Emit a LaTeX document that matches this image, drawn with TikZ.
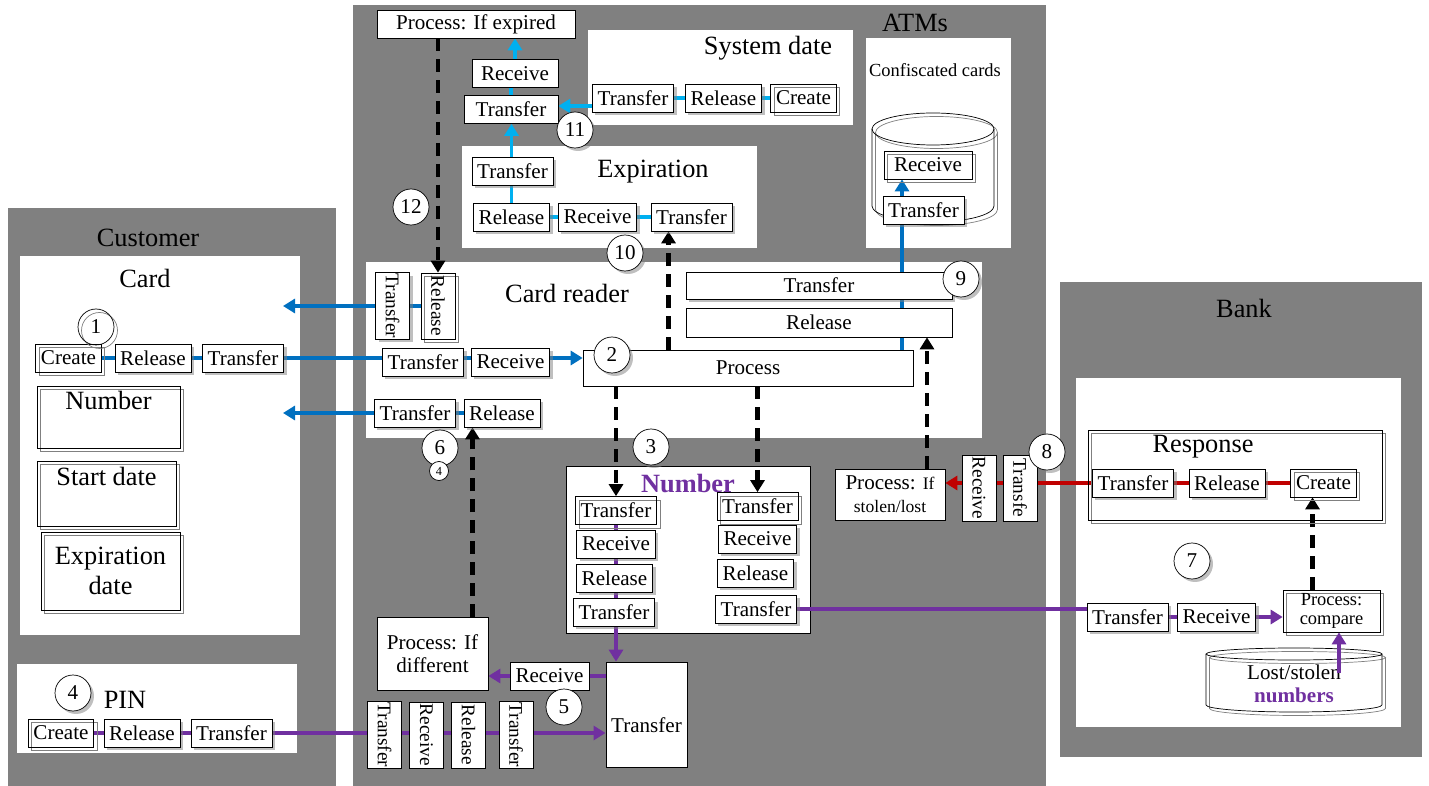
\documentclass[tikz,border=0pt]{standalone}
\usepackage{fontspec}
\setmainfont{Liberation Serif}
\usepackage{graphicx}
\usetikzlibrary{shapes, arrows.meta, positioning, shadows}

\definecolor{cardblue}{HTML}{0070C0}
\definecolor{dateblue}{HTML}{00B0F0}
\definecolor{numpurple}{HTML}{7030A0}
\definecolor{respred}{HTML}{C00000}
\definecolor{zonegray}{HTML}{808080}

\pgfdeclarelayer{panels}
\pgfdeclarelayer{links}
\pgfsetlayers{panels,links,main}

\newcommand{\vtext}[1]{\rotatebox{-90}{#1}}

\begin{document}
\begin{tikzpicture}[
    x=0.02cm, y=-0.02cm,
    font=\fontsize{12}{13}\selectfont,
    plain/.style={draw, fill=white, inner xsep=3pt, inner ysep=1pt, minimum height=0.56cm},
    lift/.style={drop shadow={shadow xshift=0.06cm, shadow yshift=-0.06cm, opacity=0.5}},
    twin/.style={fill=none, general shadow={shadow xshift=0.07cm, shadow yshift=-0.07cm, draw=gray}},
    box/.style={plain, lift},
    dbox/.style={plain, twin},
    vbox/.style={plain, font=\fontsize{11}{12}\selectfont, inner xsep=1pt, inner ysep=0.5pt, minimum width=0.68cm, minimum height=1.32cm},
    num/.style={circle, draw, fill=white, inner sep=0pt, minimum size=0.72cm, lift},
    zone/.style={font=\fontsize{15}{17}\selectfont},
    flow/.style={line width=2.2pt},
    tip/.style={-{Triangle[length=2.4mm, width=2.8mm]}},
    ctrl/.style={line width=2.4pt, dash pattern=on 7.4pt off 4.5pt, -{Triangle[length=2.4mm, width=2.8mm]}}
]
    \useasboundingbox (0,0) rectangle (1429,786);

    % Zones and panels
    \begin{pgfonlayer}{panels}
        \fill[white] (0,0) rectangle (1429,786);
        \fill[zonegray] (8,208) rectangle (336,786);
        \fill[zonegray] (353,5) rectangle (1046,786);
        \fill[zonegray] (1060,282) rectangle (1422,757);
        \fill[white] (20,256) rectangle (300,635);
        \fill[white] (17,664) rectangle (297,753);
        \fill[white] (588,30) rectangle (853,125);
        \fill[white] (866,38) rectangle (1011,248);
        \fill[white] (462,146) rectangle (757,248);
        \fill[white] (366,262) rectangle (982,438);
        \filldraw[fill=white, draw=black] (566,466) rectangle (810,633);
        \fill[white] (1076,378) rectangle (1401,727);
    \end{pgfonlayer}

    % Titles
    \node[zone] (customer) at (148,238) {Customer};
    \node[zone] (atms) at (915,23) {ATMs};
    \node[zone] (bank) at (1244,308) {Bank};
    \node[zone] (cardtitle) at (145,278) {Card};
    \node[zone] (pintitle) at (125,700) {PIN};
    \node[zone] (systitle) at (768,48) {System date};
    \node[font=\fontsize{10.5}{12}\selectfont] (conftitle) at (935,70) {Confiscated cards};
    \node[zone] (exptitle) at (653,172) {Expiration};
    \node[zone] (readtitle) at (567,293) {Card reader};
    \node[font=\fontsize{15}{17}\selectfont\bfseries, text=numpurple] (numtitle) at (688,484) {Number};

    % Customer: card
    \node[dbox] (cardC) at (68.5,358) {Create};
    \node[box] (cardL) at (153,358) {Release};
    \node[box] (cardT) at (243,358) {Transfer};
    \node[circle, draw, inner sep=0pt, minimum size=0.72cm, twin] (n1) at (96,327) {1};
    \node[dbox, font=\fontsize{15}{17}\selectfont, minimum width=2.86cm, text height=0.38cm, text depth=0.66cm, inner ysep=0.1cm] (cardnum) at (108.5,417) {Number};
    \node[dbox, font=\fontsize{15}{17}\selectfont, minimum width=2.78cm, text height=0.38cm, text depth=0.72cm, inner ysep=0.1cm] (cardstart) at (106.5,493.5) {Start date};
    \node[dbox, font=\fontsize{15}{17}\selectfont, align=center, minimum width=2.78cm, minimum height=1.56cm] (cardexp) at (110.5,571) {Expiration\\date};

    % Customer: PIN
    \node[num] (n4) at (73,693) {4};
    \node[dbox] (pinC) at (61,733) {Create};
    \node[box] (pinL) at (142,733) {Release};
    \node[box] (pinT) at (231.5,733) {Transfer};

    % Card reader
    \node[vbox, lift] (ejectT) at (392.5,306) {\vtext{Transfer}};
    \node[vbox, twin] (ejectR) at (438,306) {\vtext{Release}};
    \node[box] (readT) at (423,362) {Transfer};
    \node[box] (readR) at (510.5,362) {Receive};
    \node[plain, minimum width=6.6cm, minimum height=0.72cm] (proc) at (748,368) {Process};
    \node[num] (n2) at (612,355) {2};
    \node[box] (returnT) at (415,413) {Transfer};
    \node[box] (returnR) at (502,413) {Release};
    \node[box, minimum width=5.32cm, minimum height=0.54cm] (keepT) at (819,285.5) {Transfer};
    \node[plain, minimum width=5.32cm, minimum height=0.58cm] (keepR) at (819,322.5) {Release};
    \node[num] (n9) at (961,279) {9};
    \node[num] (n6) at (440,448) {6};
    \node[num, minimum size=0.38cm, font=\fontsize{7}{8}\selectfont] (n4b) at (439,471) {4};
    \coordinate (toCard1) at (283,306);
    \coordinate (toCard2) at (283,413);

    % Expiration
    \node[box] (expT1) at (512.5,171) {Transfer};
    \node[box] (expL) at (511.5,217) {Release};
    \node[box] (expR) at (597.5,217) {Receive};
    \node[box] (expT2) at (691.5,217) {Transfer};
    \node[num] (n10) at (625,253) {10};

    % Expiry check
    \node[plain, minimum width=1.88cm] (topT) at (511,109.5) {Transfer};
    \node[plain, minimum width=1.72cm] (topR) at (515,73.5) {Receive};
    \node[plain, minimum width=3.96cm] (pexp) at (476,24) {Process: If expired};
    \node[num] (n11) at (575,130) {11};
    \node[num] (n12) at (411,207) {12};

    % System date
    \node[box] (sysT) at (633,98) {Transfer};
    \node[box] (sysL) at (723.5,98) {Release};
    \node[dbox] (sysC) at (803.5,98) {Create};

    % Confiscated cards (drum)
    \foreach \dx/\col in {0.07cm/gray, 0cm/black} {
        \begin{scope}[shift={(\dx,-\dx)}]
            \draw[\col] (872,129) -- (872,206) arc[start angle=180, end angle=360, x radius=1.22cm, y radius=0.32cm] -- (994,129);
            \draw[\col] (933,129) ellipse[x radius=1.22cm, y radius=0.32cm];
        \end{scope}
    }
    \node[dbox, minimum width=1.76cm] (confR) at (928,165) {Receive};
    \node[box] (confT) at (923.5,210) {Transfer};

    % Number
    \node[dbox] (nLT1) at (616,510.5) {Transfer};
    \node[box] (nLR) at (616,544) {Receive};
    \node[box] (nLL) at (614.5,578) {Release};
    \node[box] (nLT2) at (614,612.5) {Transfer};
    \node[dbox] (nRT1) at (757.5,506.5) {Transfer};
    \node[box] (nRR) at (757.5,539) {Receive};
    \node[box] (nRL) at (755.5,573) {Release};
    \node[box] (nRT2) at (756,609) {Transfer};
    \node[num] (n3) at (651,447) {3};

    % PIN check
    \node[plain, minimum width=1.58cm, text height=1.04cm, text depth=0.3cm, inner ysep=0.38cm] (bigT) at (646.5,714.5) {Transfer};
    \node[plain, minimum width=1.58cm] (diffR) at (549.5,676) {Receive};
    \node[plain, align=center, minimum width=2.22cm, minimum height=1.46cm] (pdiff) at (432.5,653.5) {Process: If\\different};
    \node[num] (n5) at (564,707) {5};
    \node[vbox] (pinV1) at (384.5,735) {\vtext{Transfer}};
    \node[vbox] (pinV2) at (426.5,735) {\vtext{Receive}};
    \node[vbox] (pinV3) at (468.5,735) {\vtext{Release}};
    \node[vbox] (pinV4) at (516,735) {\vtext{Transfer}};

    % Stolen check
    \node[plain, align=center, minimum width=2.2cm, minimum height=1.02cm] (pstolen) at (890,494.5) {Process: {\fontsize{10}{11}\selectfont If}\\{\fontsize{10}{11}\selectfont stolen/lost}};
    \node[vbox] (stR) at (979,488) {\vtext{Receive}};
    \node[vbox] (stT) at (1020,488) {\vtext{Transfe}};
    \node[num] (n8) at (1047,452) {8};

    % Bank
    \node[draw, twin, minimum width=5.88cm, minimum height=1.8cm] (resp) at (1235,475) {};
    \node[zone] (resptitle) at (1203,447) {Response};
    \node[box] (bankT1) at (1133,483) {Transfer};
    \node[box] (bankL) at (1227,483) {Release};
    \node[dbox] (bankC) at (1323.5,483) {Create};
    \node[num] (n7) at (1192,561) {7};
    \node[box] (bankT2) at (1127.5,617) {Transfer};
    \node[box] (bankR) at (1216.5,617) {Receive};
    \node[dbox, align=center, font=\fontsize{10.5}{11}\selectfont, minimum width=1.94cm, minimum height=0.84cm, inner ysep=0pt] (pcmp) at (1331.5,611) {Process:\\compare};

    % Lost/stolen numbers (drum)
    \foreach \dx/\col in {0.07cm/gray, 0cm/black} {
        \begin{scope}[shift={(\dx,-\dx)}]
            \draw[\col] (1206,654) -- (1206,705) arc[start angle=180, end angle=360, x radius=1.76cm, y radius=0.14cm] -- (1382,654);
            \draw[\col] (1294,654) ellipse[x radius=1.76cm, y radius=0.12cm];
        \end{scope}
    }
    \node[align=center] (lost) at (1294,684) {Lost/stolen\\{\bfseries\color{numpurple}numbers}};

    % Connections
    \begin{pgfonlayer}{links}
        % card flow
        \draw[flow, cardblue] (cardC.east) -- (cardT);
        \draw[flow, cardblue, tip] (cardT.east) -- (proc.west |- cardT.east);
        \draw[flow, cardblue, tip] (ejectR.west) -- (toCard1);
        \draw[flow, cardblue, tip] (returnR.west) -- (toCard2);
        \draw[flow, cardblue] ([xshift=-0.43cm]confT.south) -- ([xshift=-0.43cm]confT.south |- proc.north);
        \draw[flow, cardblue, tip] ([xshift=-0.43cm]confT.north) -- ([xshift=-0.43cm]confT.north |- confR.south);
        % date flow
        \draw[flow, dateblue] (sysT) -- (sysC.west);
        \draw[flow, dateblue, tip] ([yshift=-0.16cm]sysT.west) -- ([yshift=-0.16cm]sysT.west -| topT.east);
        \draw[flow, dateblue] (expL) -- (expT2);
        \draw[flow, dateblue, tip] (expL.north) -- (expL.north |- topT.south);
        \draw[flow, dateblue] (topT.north) -- (topT.north |- topR.south);
        \draw[flow, dateblue, tip] (topR.north) -- (topR.north |- pexp.south);
        % number and PIN flow
        \draw[flow, numpurple, tip] (pinC.east) -- (pinC.east -| bigT.west);
        \draw[flow, numpurple, tip] (nLT1.south) -- (nLT1.south |- bigT.north);
        \draw[flow, numpurple, tip] (bigT.west |- diffR.east) -- (diffR.west -| pdiff.east);
        \draw[flow, numpurple] (nRT2.east) -- (nRT2.east -| bankT2.west);
        \draw[flow, numpurple, tip] (bankT2.east) -- (bankT2.east -| pcmp.west);
    \end{pgfonlayer}
    \draw[flow, numpurple, tip] ([shift={(0.9cm,0.22cm)}]lost.center) -- ([xshift=0.9cm]lost.center |- pcmp.south);
    \begin{pgfonlayer}{links}
        % response flow
        \draw[flow, respred] (bankT1) -- (bankC.west);
        \draw[flow, respred, tip] (bankT1.west) -- (bankT1.west -| pstolen.east);
        % control
        \draw[ctrl] (ejectR.north |- pexp.south) -- (ejectR.north);
        \draw[ctrl] ([xshift=-0.46cm]expT2.south |- proc.north) -- ([xshift=-0.46cm]expT2.south);
        \draw[ctrl] (nLT1.north |- proc.south) -- (nLT1.north);
        \draw[ctrl] (nRT1.north |- proc.south) -- (nRT1.north);
        \draw[ctrl] ([xshift=0.8cm]pdiff.north) -- ([xshift=0.8cm]pdiff.north |- returnR.south);
        \draw[ctrl] ([xshift=0.74cm]pstolen.north) -- ([xshift=0.74cm]pstolen.north |- keepR.south);
        \draw[ctrl] ([xshift=-0.22cm]bankC.south |- pcmp.north) -- ([xshift=-0.22cm]bankC.south);
    \end{pgfonlayer}

\end{tikzpicture}
\end{document}
